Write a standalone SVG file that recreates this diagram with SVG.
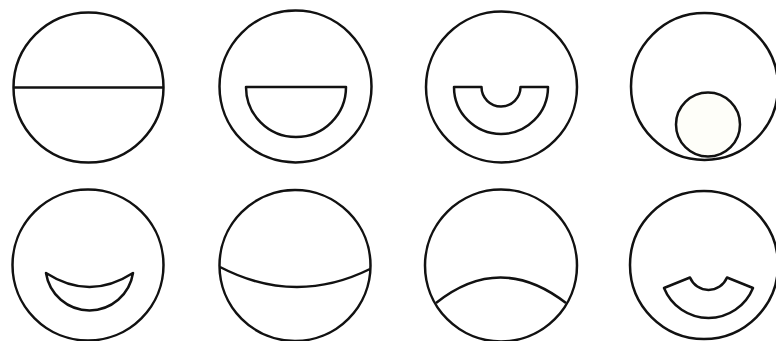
<svg xmlns="http://www.w3.org/2000/svg" width="776" height="341" viewBox="0 0 776 341">
  <style>
    .s { fill: none; stroke: #111; stroke-width: 2.5; stroke-linejoin: round; }
    .f { fill: #fefef9; stroke: #111; stroke-width: 2.5; }
  </style>
  <rect width="776" height="341" fill="#ffffff"/>
  <g id="fig1">
    <circle class="s" cx="88.5" cy="87.5" r="75"/>
    <line class="s" x1="13.5" y1="87.5" x2="163.5" y2="87.5"/>
  </g>
  <g id="fig2">
    <circle class="s" cx="295.5" cy="86.5" r="76"/>
    <path class="s" d="M246 87 H346 A50 50 0 0 1 246 87 Z"/>
  </g>
  <g id="fig3">
    <circle class="s" cx="501.5" cy="87" r="75.5"/>
    <path class="s" d="M454 87 H481.5 A19.5 19.5 0 0 0 520.5 87 H548 A47 47 0 0 1 454 87 Z"/>
  </g>
  <g id="fig4">
    <circle class="s" cx="704.5" cy="86.5" r="73.5"/>
    <circle class="f" cx="708" cy="124.5" r="32"/>
  </g>
  <g id="fig5">
    <circle class="s" cx="88" cy="265" r="75.5"/>
    <path class="s" d="M46 273 Q89.5 301 133 273 A44 44 0 0 1 46 273 Z"/>
  </g>
  <g id="fig6">
    <circle class="s" cx="295" cy="265.5" r="75.5"/>
    <path class="s" d="M220 267 Q295 306 370 269"/>
  </g>
  <g id="fig7">
    <circle class="s" cx="501" cy="265.5" r="76"/>
    <path class="s" d="M436 303 Q500 252 566 303"/>
  </g>
  <g id="fig8">
    <circle class="s" cx="704" cy="265" r="74"/>
    <path class="s" d="M664 288 L690 277.5 A20 20 0 0 0 727 277.5 L753 288 A48 48 0 0 1 664 288 Z"/>
  </g>
</svg>
